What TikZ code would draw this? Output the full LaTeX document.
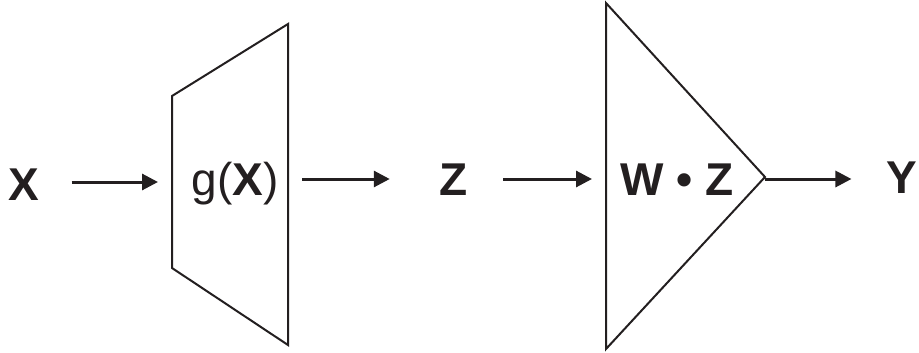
\documentclass[tikz,border=0pt]{standalone}
\usepackage{fontspec}
\setmainfont{Liberation Sans}
\usetikzlibrary{arrows.meta}
\definecolor{ink}{HTML}{231F20}
\begin{document}
\begin{tikzpicture}[x=1pt,y=-1pt,>={Triangle[length=16pt,width=16pt]},draw=ink,text=ink,
  lbl/.style={font=\fontsize{46}{52}\selectfont,inner sep=0pt,anchor=base},
  arr/.style={line width=3pt,->}]
 \useasboundingbox (0,0) rectangle (919,353);
 % encoder and linear layer
 \draw[line width=2pt] (172,96) -- (288,24) -- (288,345) -- (172,268) -- cycle;
 \draw[line width=2pt] (606,3) -- (765,177) -- (606,349) -- cycle;
 \coordinate (gin) at (172,182);
 \coordinate (gout) at (288,179);
 \coordinate (win) at (606,179);
 \coordinate (wout) at (765,179);
 % labels
 \node[lbl] (x) at (24,200) {\bfseries X};
 \node[lbl] (g) at (235,195) {g(\textbf{X})};
 \node[lbl] (z) at (454,195) {\bfseries Z};
 \node[lbl] (w) at (677,195) {\bfseries W • Z};
 \node[lbl] (y) at (902,193) {\bfseries Y};
 % arrows
 \draw[arr,shorten <=32pt,shorten >=14pt] (x.east |- gin) -- (gin);
 \draw[arr,shorten <=14pt,shorten >=50pt] (gout) -- (gout -| z.west);
 \draw[arr,shorten <=35pt,shorten >=14pt] (z.east |- win) -- (win);
 \draw[arr,shorten >=35pt] (wout) -- (wout -| y.west);
\end{tikzpicture}
\end{document}
